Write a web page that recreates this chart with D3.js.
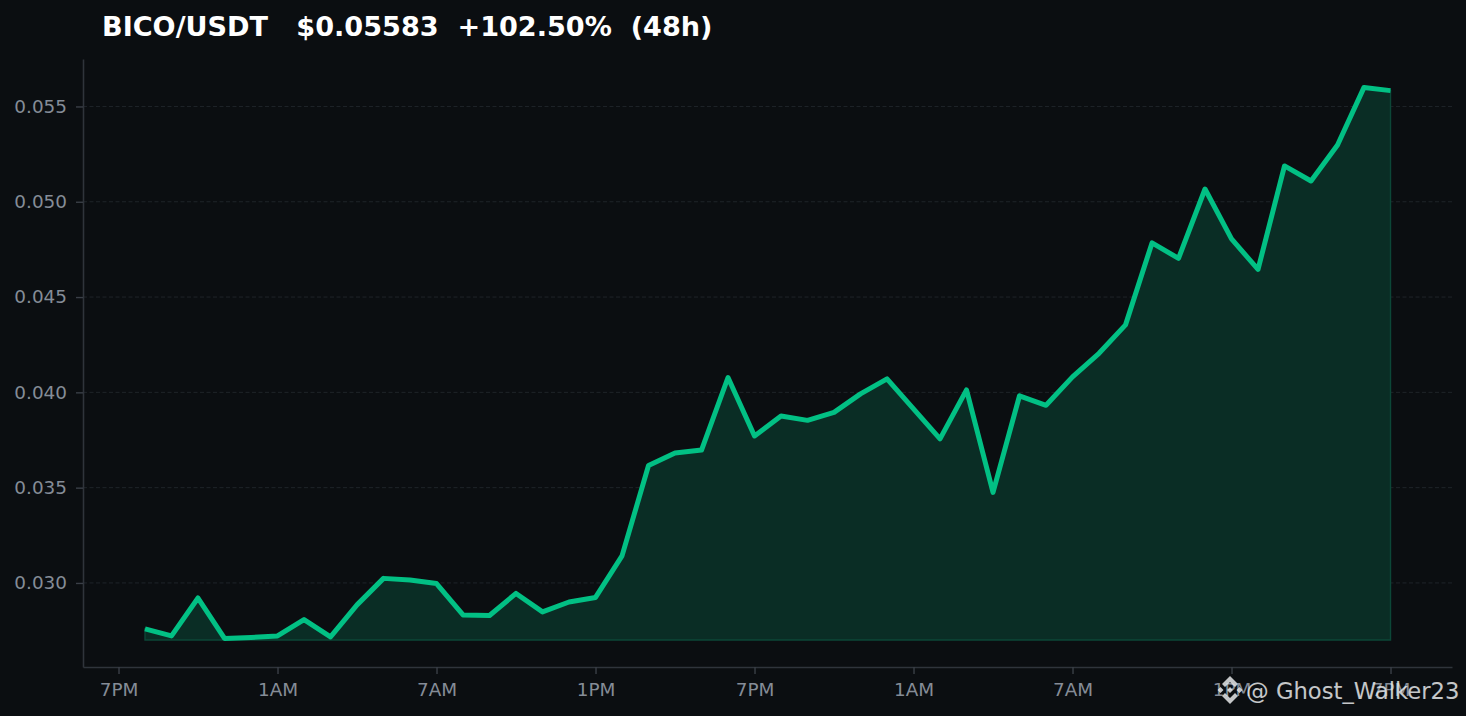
<!DOCTYPE html>
<html><head><meta charset="utf-8">
<script src="https://cdn.jsdelivr.net/npm/d3@7/dist/d3.min.js"></script>
<style>
html,body{margin:0;padding:0;background:#0b0e11;overflow:hidden}
svg{display:block}
text{font-family:"DejaVu Sans",sans-serif}
</style></head><body>
<svg id="c" width="1466" height="716"></svg>
<script>
const hours=d3.range(1,49);
const prices=[.02759,.02722,.02921,.02709,.02714,.02722,.02808,.02717,.02885,.03024,.03016,.02997,
.02832,.02829,.02945,.02848,.02900,.02924,.03142,.03616,.03682,.03697,.04078,.03771,
.03876,.03853,.03895,.03992,.04071,.03913,.03756,.04013,.03475,.03982,.03932,.04081,
.04205,.04354,.04784,.04703,.05067,.04805,.04645,.05188,.05109,.05298,.05600,.05583];
const baseline=.02701;
const xTickHours=[0,6,12,18,24,30,36,42,48];
const xTickLabels=["7PM","1AM","7AM","1PM","7PM","1AM","7AM","1PM","7PM"];
const yTicks=[.03,.035,.04,.045,.05,.055];
const title="BICO/USDT   $0.05583  +102.50%  (48h)";
const watermark="@ Ghost_Walker23";

const L=83,R=1452,T=59,B=667;
const x=d3.scaleLinear().domain([-1.34,50.32]).range([L,R]);
const y=d3.scaleLinear().domain([.02559,.05749]).range([B,T]);
const svg=d3.select("#c");

svg.append("g").selectAll("line").data(yTicks).join("line")
 .attr("x1",L).attr("x2",R).attr("y1",d=>y(d)).attr("y2",d=>y(d))
 .attr("stroke","#1f2429").attr("stroke-width",1).attr("stroke-dasharray","4 2.5");

const area=d3.area().x((d,i)=>x(hours[i])).y0(y(baseline)).y1(d=>y(d));
svg.append("path").datum(prices).attr("d",area)
 .attr("fill","#0a2d25").attr("stroke","#0c4737").attr("stroke-width",1.4);
const line=d3.line().x((d,i)=>x(hours[i])).y(d=>y(d));
svg.append("path").datum(prices).attr("d",line).attr("fill","none")
 .attr("stroke","#02c084").attr("stroke-width",5).attr("stroke-linejoin","round");

const yAxis=d3.axisLeft(y).tickValues(yTicks).tickFormat(d3.format(".3f")).tickSize(7).tickSizeOuter(0).tickPadding(9);
const xAxis=d3.axisBottom(x).tickValues(xTickHours).tickFormat((d,i)=>xTickLabels[i]).tickSize(7).tickSizeOuter(0).tickPadding(9);
const gy=svg.append("g").attr("transform",`translate(${L},0)`).call(yAxis);
const gx=svg.append("g").attr("transform",`translate(0,${B})`).call(xAxis);
for(const g of [gx,gy]){
 g.select(".domain").attr("stroke","#2f343b").attr("stroke-width",1.6);
 g.selectAll(".tick line").attr("stroke","#3a3f47").attr("stroke-width",1.4);
 g.selectAll("text").attr("fill","#858c97").attr("font-size",18.4).attr("font-family",'"DejaVu Sans"');
}
svg.append("text").attr("x",102).attr("y",35.5).attr("fill","#fff")
 .attr("font-size",27.1).attr("font-weight",700).style("white-space","pre").text(title);

const wm=svg.append("g").attr("opacity",.85);
wm.append("text").attr("x",1246).attr("y",699).attr("fill","#e6e8ea").attr("font-size",22.7).text(watermark);
const icon=wm.append("g").attr("transform","translate(1230,690)").attr("fill","#e6e8ea");
const diamond=(cx,cy,r)=>`M${cx-r},${cy}L${cx},${cy-r}L${cx+r},${cy}L${cx},${cy+r}Z`;
icon.append("path").attr("d",diamond(-9.5,0,3)+diamond(9.5,0,3)+diamond(0,0,3));
icon.append("path").attr("d","M0,-14L8,-6L5,-3L0,-8L-5,-3L-8,-6Z M0,14L8,6L5,3L0,8L-5,3L-8,6Z");
</script>
</body></html>
